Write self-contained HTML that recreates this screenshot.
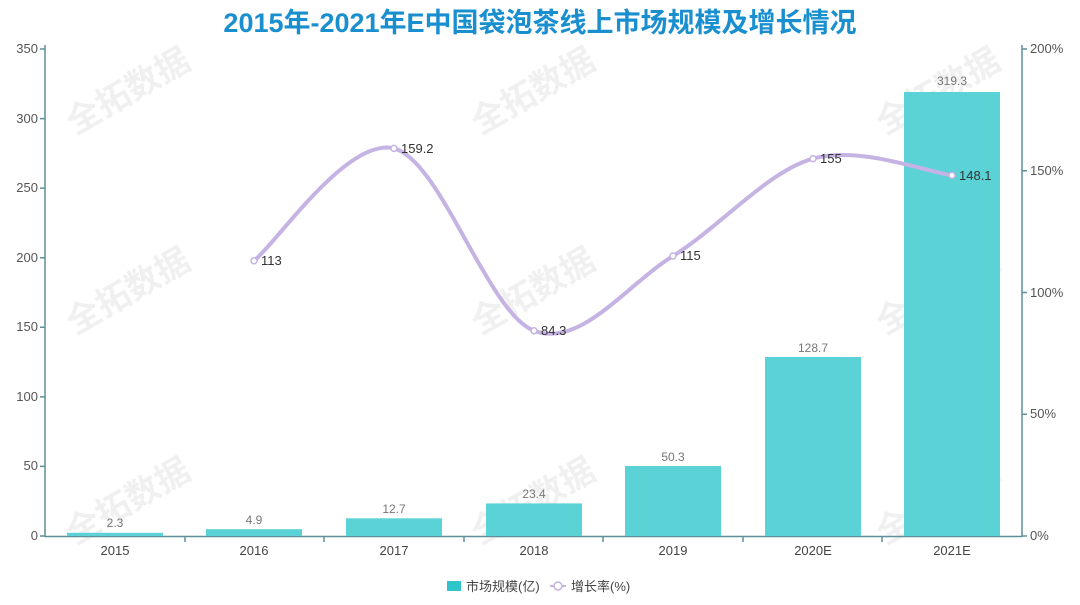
<!DOCTYPE html>
<html><head><meta charset="utf-8"><style>
body{margin:0;background:#fff;width:1080px;height:605px;overflow:hidden}
svg{display:block;font-family:"Liberation Sans","Noto Sans CJK SC",sans-serif}
</style></head><body>
<svg width="1080" height="605" viewBox="0 0 1080 605">
<text x="540" y="32" text-anchor="middle" font-size="27" font-weight="bold" fill="#1a8fd0">2015年-2021年E中国袋泡茶线上市场规模及增长情况</text>
<g font-size="34" font-weight="bold" fill="#000" fill-opacity="0.06">
<text transform="translate(75,135) rotate(-30)">全拓数据</text>
<text transform="translate(480,135) rotate(-30)">全拓数据</text>
<text transform="translate(885,135) rotate(-30)">全拓数据</text>
<text transform="translate(75,335) rotate(-30)">全拓数据</text>
<text transform="translate(480,335) rotate(-30)">全拓数据</text>
<text transform="translate(885,335) rotate(-30)">全拓数据</text>
<text transform="translate(75,545) rotate(-30)">全拓数据</text>
<text transform="translate(480,545) rotate(-30)">全拓数据</text>
<text transform="translate(885,545) rotate(-30)">全拓数据</text>
</g>
<g stroke="#5f8f98" stroke-width="1.5" fill="none">
<line x1="45" y1="45" x2="45" y2="537"/>
<line x1="1022" y1="45" x2="1022" y2="537"/>
<line x1="45" y1="536.5" x2="1022" y2="536.5"/>
<path d="M40 49H45M40 118.6H45M40 188.1H45M40 257.7H45M40 327.3H45M40 396.9H45M40 466.4H45M40 536H45"/>
<path d="M1022 49H1027M1022 170.8H1027M1022 292.5H1027M1022 414.3H1027M1022 536H1027"/>
<path d="M185 536V542M324 536V542M464 536V542M603 536V542M743 536V542M882 536V542"/>
</g>
<g font-size="13" fill="#555" text-anchor="end">
<text x="38" y="53">350</text><text x="38" y="123">300</text><text x="38" y="192">250</text><text x="38" y="262">200</text><text x="38" y="331">150</text><text x="38" y="401">100</text><text x="38" y="470">50</text><text x="38" y="540">0</text>
</g>
<g font-size="13" fill="#555">
<text x="1030" y="53">200%</text><text x="1030" y="175">150%</text><text x="1030" y="297">100%</text><text x="1030" y="418">50%</text><text x="1030" y="540">0%</text>
</g>
<g font-size="13" fill="#444" text-anchor="middle">
<text x="115" y="555">2015</text><text x="254" y="555">2016</text><text x="394" y="555">2017</text><text x="534" y="555">2018</text><text x="673" y="555">2019</text><text x="813" y="555">2020E</text><text x="952" y="555">2021E</text>
</g>
<g fill="#5ad2d6">
<rect x="67" y="532.8" width="96" height="3.2"/>
<rect x="206" y="529.2" width="96" height="6.8"/>
<rect x="346" y="518.3" width="96" height="17.7"/>
<rect x="486" y="503.4" width="96" height="32.6"/>
<rect x="625" y="466" width="96" height="70"/>
<rect x="765" y="357" width="96" height="179"/>
<rect x="904" y="92" width="96" height="444"/>
</g>
<g font-size="12" fill="#777" text-anchor="middle">
<text x="115" y="527">2.3</text><text x="254" y="524">4.9</text><text x="394" y="513">12.7</text><text x="534" y="498">23.4</text><text x="673" y="461">50.3</text><text x="813" y="352">128.7</text><text x="952" y="85">319.3</text>
</g>
<path d="M254 260.8C277.3 242.1 347.3 136.8 394 148.4C440.7 160 487.5 312.8 534 330.7C580.5 348.6 626.5 284.7 673 256C719.5 227.3 766.5 172 813 158.6C859.5 145.2 928.8 172.6 952 175.4" fill="none" stroke="#c5b3e3" stroke-width="4"/>
<g fill="#fff" stroke="#c5b3e3" stroke-width="1.5">
<circle cx="254" cy="260.8" r="3"/><circle cx="394" cy="148.4" r="3"/><circle cx="534" cy="330.7" r="3"/><circle cx="673" cy="256" r="3"/><circle cx="813" cy="158.6" r="3"/><circle cx="952" cy="175.4" r="3"/>
</g>
<g font-size="13" fill="#333">
<text x="261" y="265">113</text><text x="401" y="153">159.2</text><text x="541" y="335">84.3</text><text x="680" y="260">115</text><text x="820" y="163">155</text><text x="959" y="180">148.1</text>
</g>
<rect x="447" y="581" width="14" height="10" fill="#2fc4c8"/>
<text x="466" y="591" font-size="13" fill="#444">市场规模(亿)</text>
<line x1="550" y1="586" x2="566" y2="586" stroke="#c5b3e3" stroke-width="2"/>
<circle cx="558" cy="586" r="4" fill="#fff" stroke="#c5b3e3" stroke-width="1.5"/>
<text x="571" y="591" font-size="13" fill="#444">增长率(%)</text>
</svg>
</body></html>
